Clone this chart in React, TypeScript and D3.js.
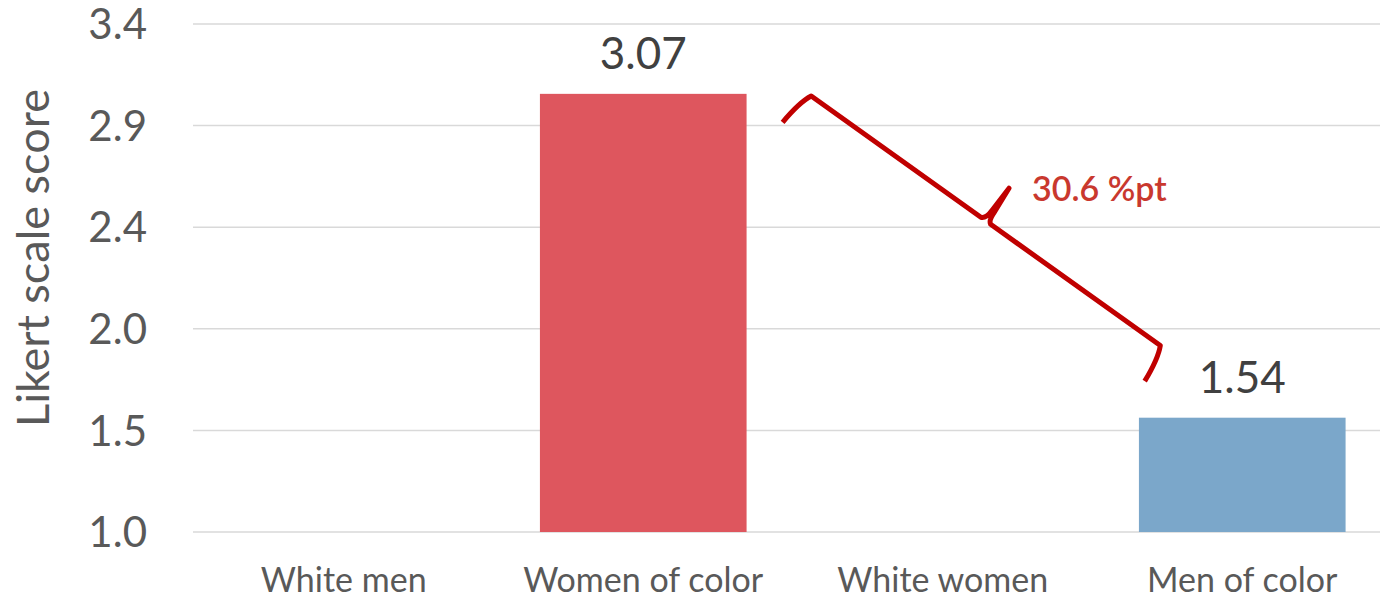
import React from "react";
import * as d3 from "d3";

const categories = ["White men", "Women of color", "White women", "Men of color"];
const values: (number | null)[] = [null, 3.07, null, 1.54];
const barColors = ["#DE565E", "#DE565E", "#7BA7CA", "#7BA7CA"];
const yTicks = [1.0, 1.48, 1.96, 2.44, 2.92, 3.4];
const yLabel = "Likert scale score";
const gapLabel = "30.6 %pt";

const W = 1380;
const H = 598;
const FONT = "Lato, 'Open Sans', sans-serif";

export default function App() {
  const x = d3.scaleBand<string>().domain(categories).range([194, 1392]).paddingInner(0.31).paddingOuter(0.155);
  const y = d3.scaleLinear().domain([1, 3.4]).range([532, 24]);
  const fmt = d3.format(".1f");

  // brace between the two bars
  const p1: [number, number] = [(x("Women of color") as number) + x.bandwidth() + 63, y(3.07) + 1];
  const p2: [number, number] = [(x("Men of color") as number) + 23, y(1.54) - 71];
  const dx = p2[0] - p1[0];
  const dy = p2[1] - p1[1];
  const L = Math.sqrt(dx * dx + dy * dy);
  const ang = (Math.atan2(dy, dx) * 180) / Math.PI;
  const m = L / 2;
  const bracePath = `M -6 38 Q -4 12 2 0 L ${m - 6} 0 Q ${m - 1} -2 ${m - 1} -12 L ${m} -40 L ${m + 2} -12 Q ${m + 2} -2 ${m + 6} 0 L ${L - 2} 0 Q ${L + 4} 12 ${L + 6} 38`;

  return (
    <svg width={W} height={H} style={{ position: "absolute", left: 0, top: 0, background: "#fff" }} fontFamily={FONT}>
      {yTicks.map((t) => (
        <g key={t}>
          <line x1={193} x2={W} y1={y(t)} y2={y(t)} stroke="#d9d9d9" strokeWidth={1.5} />
          <text x={147} y={y(t)} dy="0.36em" textAnchor="end" fontSize={42} fill="#595959">
            {fmt(t)}
          </text>
        </g>
      ))}
      {categories.map((c, i) => {
        const v = values[i];
        const bx = x(c) as number;
        return (
          <g key={c}>
            {v !== null && (
              <>
                <rect x={bx} y={y(v)} width={x.bandwidth()} height={y(1) - y(v)} fill={barColors[i]} />
                <text x={bx + x.bandwidth() / 2} y={y(v) - 25} textAnchor="middle" fontSize={44} fill="#404040">
                  {v.toFixed(2)}
                </text>
              </>
            )}
            <text x={bx + x.bandwidth() / 2} y={592} textAnchor="middle" fontSize={34} fill="#595959">
              {c}
            </text>
          </g>
        );
      })}
      <text transform={`translate(49, 258) rotate(-90)`} textAnchor="middle" fontSize={45} fill="#595959">
        {yLabel}
      </text>
      <g transform={`translate(${p1[0]}, ${p1[1]}) rotate(${ang})`}>
        <path d={bracePath} fill="none" stroke="#C00000" strokeWidth={5} strokeLinejoin="round" />
      </g>
      <text x={1032} y={201} fontSize={34} fontWeight={600} fill="#C9382E">
        {gapLabel}
      </text>
    </svg>
  );
}
